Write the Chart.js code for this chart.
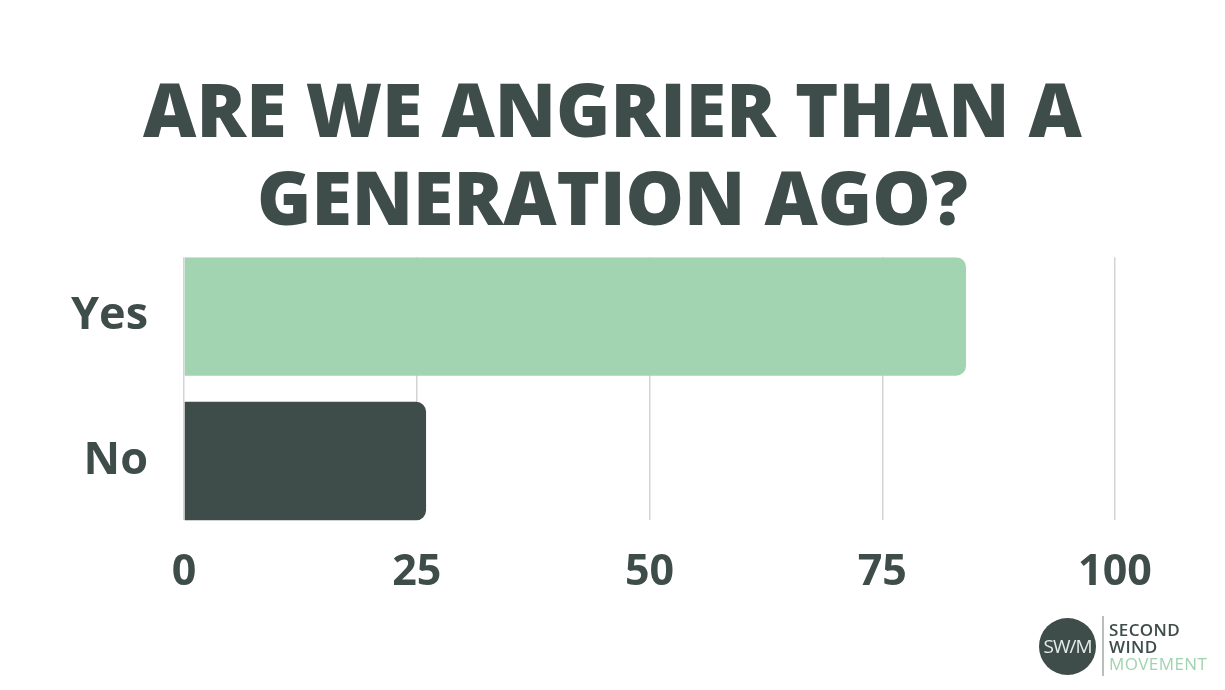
<!DOCTYPE html>
<html>
<head>
<meta charset="utf-8">
<script src="https://cdn.jsdelivr.net/npm/chart.js@4.4.1/dist/chart.umd.min.js"></script>
<style>
  html, body { margin: 0; padding: 0; background: #ffffff; }
  #wrap { position: relative; width: 1225px; height: 690px; }
  #logo { position: absolute; left: 1039px; top: 616px; display: flex; align-items: center; font-family: 'Open Sans', sans-serif; }
  #logo .circle { width: 57px; height: 57px; border-radius: 50%; background: #3e4c4a; color: #e6ecea;
    display: flex; align-items: center; justify-content: center; font-size: 19px; letter-spacing: -1px; }
  #logo .bar { width: 2px; height: 60px; background: #b8c0be; margin: 0 5px 0 6px; }
  #logo .txt { font-size: 17px; line-height: 17px; font-weight: 600; color: #3e4c4a; letter-spacing: 0.4px; }
  #logo .txt .g { color: #9fd3b0; font-weight: 500; }
</style>
</head>
<body>
<div id="wrap">
  <canvas id="angerChart" width="1225" height="690"></canvas>
  <div id="logo">
    <div class="circle">SW/M</div>
    <div class="bar"></div>
    <div class="txt">SECOND<br>WIND<br><span class="g">MOVEMENT</span></div>
  </div>
</div>
<script>
const answers = ['Yes', 'No'];
const percentages = [84, 26];
const xTicks = [0, 25, 50, 75, 100];
const titleLines = ['ARE WE ANGRIER THAN A', 'GENERATION AGO?'];

const dark = '#3e4c4a';
const green = '#a2d4b1';

new Chart(document.getElementById('angerChart'), {
  type: 'bar',
  data: {
    datasets: [{
      data: answers.map((a, i) => ({ x: percentages[i], y: i })),
      backgroundColor: [green, dark],
      borderRadius: 10,
      borderSkipped: 'start',
      barPercentage: 0.82,
      categoryPercentage: 1
    }]
  },
  options: {
    indexAxis: 'y',
    responsive: false,
    animation: false,
    layout: { padding: { left: 0, right: 0, bottom: 64, top: 0 } },
    plugins: {
      legend: { display: false },
      tooltip: { enabled: false },
      title: {
        display: true,
        text: titleLines,
        color: dark,
        font: { family: 'Open Sans', weight: 800, size: 73.5, lineHeight: 1.185 },
        padding: { top: 73, bottom: 10 }
      }
    },
    scales: {
      x: {
        type: 'linear',
        min: 0,
        max: 100,
        afterBuildTicks: (s) => { s.ticks = xTicks.map(v => ({ value: v })); },
        afterFit: (s) => { s.paddingRight = 110; },
        grid: { color: '#d3d3d3', lineWidth: 1.5, drawTicks: false },
        border: { display: false },
        ticks: {
          color: dark,
          padding: 27,
          font: { family: 'Open Sans', weight: 700, size: 43 }
        }
      },
      y: {
        type: 'linear',
        reverse: true,
        offset: false,
        min: -0.41,
        max: 1.41,
        afterBuildTicks: (s) => { s.ticks = answers.map((a, i) => ({ value: i })); },
        afterFit: (s) => { s.width = 184; },
        grid: { display: false },
        border: { display: false },
        ticks: {
          color: dark,
          padding: 28,
          callback: (v) => answers[v],
          font: { family: 'Open Sans', weight: 700, size: 45 }
        }
      }
    }
  }
});
</script>
</body>
</html>
